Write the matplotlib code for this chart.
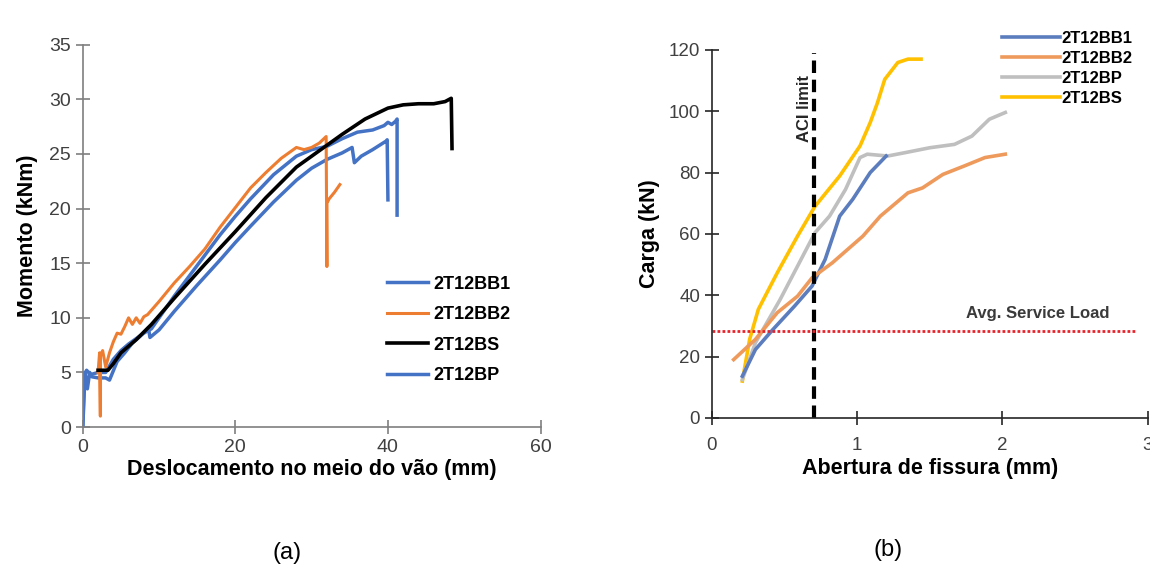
import matplotlib.pyplot as plt

plt.rcParams['font.family'] = ['Liberation Sans', 'DejaVu Sans']

# (a) momento x deslocamento
bb1_x = [0, 0.2, 0.5, 1.0, 2.0, 3.0, 4.0, 5.0, 6.0, 7.0, 8.0, 9.0, 12, 15, 18, 20, 22, 25, 28, 30, 32, 34, 36, 38, 39.5, 40.0, 40.5, 41.0, 41.2, 41.2]
bb1_y = [0, 4.8, 5.2, 4.8, 5.0, 5.0, 6.2, 7.0, 7.6, 8.1, 8.6, 9.0, 12.0, 14.8, 17.6, 19.3, 20.9, 23.1, 24.8, 25.4, 25.7, 26.4, 27.0, 27.2, 27.6, 27.9, 27.7, 28.0, 28.2, 19.4]

bb2_x = [2.0, 2.2, 2.3, 2.3, 2.6, 3.0, 3.5, 4.0, 4.5, 5.0, 5.5, 6.0, 6.5, 7.0, 7.5, 8.0, 8.5, 10, 12, 14, 16, 18, 20, 22, 24, 26, 28, 29, 30, 31, 31.9, 32.0, 32.0, 32.3, 33.0, 33.7]
bb2_y = [5.0, 6.8, 1.0, 6.5, 7.0, 5.5, 6.8, 7.8, 8.6, 8.5, 9.2, 10.0, 9.4, 10.0, 9.5, 10.1, 10.3, 11.5, 13.2, 14.7, 16.3, 18.3, 20.1, 21.9, 23.3, 24.6, 25.6, 25.4, 25.6, 26.0, 26.6, 14.7, 20.5, 20.9, 21.5, 22.2]

bs_x = [2.0, 3.3, 4.0, 5.0, 6.0, 7.0, 8.0, 9.0, 12, 16, 20, 24, 28, 31, 34, 37, 40, 42, 44, 46, 47.5, 48.3, 48.4]
bs_y = [5.2, 5.2, 5.8, 6.8, 7.4, 8.0, 8.7, 9.4, 11.8, 14.9, 17.9, 21.0, 23.8, 25.3, 26.8, 28.2, 29.2, 29.5, 29.6, 29.6, 29.8, 30.1, 25.5]

bp_x = [0, 0.3, 0.6, 0.9, 1.2, 2.0, 3.0, 3.5, 4.5, 5.5, 6.5, 7.5, 8.6, 8.8, 10, 12, 15, 18, 20, 22, 25, 28, 30, 32, 34, 35.3, 35.6, 36.5, 38, 39.8, 39.9, 40.0]
bp_y = [0, 5.0, 3.5, 5.0, 4.6, 4.5, 4.5, 4.3, 6.0, 6.8, 7.7, 8.3, 9.1, 8.2, 8.9, 10.6, 13.0, 15.3, 16.9, 18.4, 20.6, 22.6, 23.7, 24.5, 25.1, 25.6, 24.2, 24.8, 25.4, 26.2, 26.3, 20.8]

# (b) carga x abertura de fissura
f_bb1_x = [0.21, 0.30, 0.42, 0.57, 0.69, 0.78, 0.88, 0.97, 1.09, 1.20]
f_bb1_y = [13.6, 22.3, 28.8, 36.5, 43.0, 51.7, 65.8, 71.3, 80.0, 85.4]
f_bb2_x = [0.15, 0.30, 0.45, 0.59, 0.69, 0.83, 1.04, 1.16, 1.35, 1.45, 1.59, 1.74, 1.88, 2.02]
f_bb2_y = [19.0, 25.6, 34.3, 39.7, 45.7, 50.6, 59.3, 65.8, 73.4, 75.0, 79.4, 82.2, 84.9, 86.0]
f_bp_x = [0.21, 0.30, 0.47, 0.59, 0.71, 0.81, 0.92, 1.02, 1.07, 1.21, 1.33, 1.50, 1.67, 1.79, 1.91, 2.02]
f_bp_y = [12.5, 24.5, 38.6, 49.5, 60.4, 65.8, 74.5, 84.9, 86.0, 85.4, 86.5, 88.1, 89.2, 91.9, 97.4, 99.6]
f_bs_x = [0.21, 0.26, 0.32, 0.45, 0.59, 0.71, 0.88, 1.02, 1.09, 1.14, 1.19, 1.28, 1.35, 1.44]
f_bs_y = [12.0, 25.6, 35.4, 47.3, 59.3, 69.0, 78.9, 88.7, 96.3, 102.8, 110.4, 115.9, 117.0, 117.0]

aci_limit = 0.70
service_load = 28.3

fig = plt.figure(figsize=(11.5, 5.74), dpi=100)

# --- grafico (a)
ax1 = fig.add_axes([0.072, 0.256, 0.398, 0.666])
ax1.plot(bp_x, bp_y, color='#4472C4', lw=2.5, label='2T12BP')
ax1.plot(bb1_x, bb1_y, color='#4472C4', lw=2.5, label='2T12BB1')
ax1.plot(bb2_x, bb2_y, color='#ED7D31', lw=2.2, label='2T12BB2')
ax1.plot(bs_x, bs_y, color='black', lw=2.6, label='2T12BS')
ax1.set_xlim(0, 60)
ax1.set_ylim(0, 35)
ax1.set_xticks([0, 20, 40, 60])
ax1.set_yticks(range(0, 36, 5))
for s in ['top', 'right']:
    ax1.spines[s].set_visible(False)
for s in ['left', 'bottom']:
    ax1.spines[s].set_color('#7f7f7f')
    ax1.spines[s].set_linewidth(1.2)
ax1.tick_params(direction='inout', length=10, width=1.2, color='#7f7f7f', labelsize=14, labelcolor='#404040')
ax1.set_xlabel('Deslocamento no meio do vão (mm)', fontsize=15.5, fontweight='bold', labelpad=2)
ax1.set_ylabel('Momento (kNm)', fontsize=15.5, fontweight='bold', labelpad=8)
h, l = ax1.get_legend_handles_labels()
order = [1, 2, 3, 0]
ax1.legend([h[i] for i in order], [l[i] for i in order], loc='upper left',
           bbox_to_anchor=(0.322, 0.548), bbox_transform=fig.transFigure,
           frameon=False, handlelength=2.3, handletextpad=0.3, labelspacing=0.75,
           prop={'weight': 'bold', 'size': 13})
fig.text(287 / 1150, 1 - 553 / 574, '(a)', fontsize=17, ha='center', va='center')

# --- grafico (b)
ax2 = fig.add_axes([0.619, 0.272, 0.379, 0.641])
ax2.plot(f_bs_x, f_bs_y, color='#FFC000', lw=2.6, label='2T12BS')
ax2.plot(f_bp_x, f_bp_y, color='#BFBFBF', lw=2.6, label='2T12BP')
ax2.plot(f_bb1_x, f_bb1_y, color='#5B7DBE', lw=2.6, label='2T12BB1')
ax2.plot(f_bb2_x, f_bb2_y, color='#EE9A5C', lw=2.6, label='2T12BB2')
ax2.axvline(aci_limit, ymax=119 / 120, color='black', lw=3, ls=(0, (3, 1.6)))
ax2.axhline(service_load, xmax=0.97, color='#E8222A', lw=2, ls=(0, (1, 0.8)))
ax2.text(aci_limit - 0.06, 101, 'ACI limit', rotation=90, ha='center', va='center',
         fontsize=12, fontweight='bold', color='#262626')
ax2.text(2.24, 34, 'Avg. Service Load', ha='center', va='center',
         fontsize=12, fontweight='bold', color='#3a3a3a')
ax2.set_xlim(0, 3)
ax2.set_ylim(0, 120)
ax2.set_xticks([0, 1, 2, 3])
ax2.set_yticks(range(0, 121, 20))
for s in ['top', 'right']:
    ax2.spines[s].set_visible(False)
for s in ['left', 'bottom']:
    ax2.spines[s].set_color('#262626')
    ax2.spines[s].set_linewidth(1.2)
ax2.tick_params(direction='inout', length=10, width=1.2, color='#262626', labelsize=13.5, labelcolor='#404040')
ax2.tick_params(axis='x', pad=9)
ax2.set_xlabel('Abertura de fissura (mm)', fontsize=15.5, fontweight='bold', labelpad=3)
ax2.set_ylabel('Carga (kN)', fontsize=15.5, fontweight='bold', labelpad=6)
h, l = ax2.get_legend_handles_labels()
order = [2, 3, 1, 0]
ax2.legend([h[i] for i in order], [l[i] for i in order], loc='upper left',
           bbox_to_anchor=(0.858, 0.972), bbox_transform=fig.transFigure,
           frameon=False, handlelength=3.5, handletextpad=0.1, labelspacing=0.3,
           prop={'weight': 'bold', 'size': 12})
fig.text(888 / 1150, 1 - 550 / 574, '(b)', fontsize=17, ha='center', va='center')

fig.savefig('out.png', dpi=100)
